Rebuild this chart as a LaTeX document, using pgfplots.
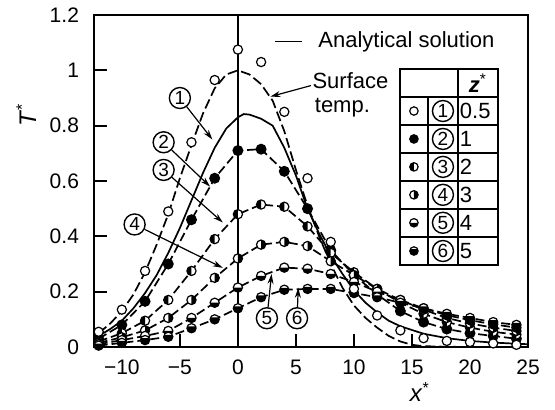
\documentclass[border=0pt]{standalone}
\usepackage{fontspec}
\setmainfont{Liberation Sans}
\usepackage{pgfplots}
\pgfplotsset{compat=1.18}
\usetikzlibrary{arrows.meta}

% half-filled circle marks
\pgfdeclareplotmark{hL}{%
  \pgfpathcircle{\pgfpointorigin}{\pgfplotmarksize}\pgfsetfillcolor{white}\pgfusepath{fill}%
  \pgfpathmoveto{\pgfqpoint{0pt}{\pgfplotmarksize}}\pgfpatharc{90}{270}{\pgfplotmarksize}\pgfpathclose
  \pgfsetfillcolor{black}\pgfusepath{fill}%
  \pgfpathcircle{\pgfpointorigin}{\pgfplotmarksize}\pgfusepath{stroke}}
\pgfdeclareplotmark{hR}{%
  \pgfpathcircle{\pgfpointorigin}{\pgfplotmarksize}\pgfsetfillcolor{white}\pgfusepath{fill}%
  \pgfpathmoveto{\pgfqpoint{0pt}{\pgfplotmarksize}}\pgfpatharc{90}{-90}{\pgfplotmarksize}\pgfpathclose
  \pgfsetfillcolor{black}\pgfusepath{fill}%
  \pgfpathcircle{\pgfpointorigin}{\pgfplotmarksize}\pgfusepath{stroke}}
\pgfdeclareplotmark{hB}{%
  \pgfpathcircle{\pgfpointorigin}{\pgfplotmarksize}\pgfsetfillcolor{white}\pgfusepath{fill}%
  \pgfpathmoveto{\pgfqpoint{-\pgfplotmarksize}{0pt}}\pgfpatharc{180}{360}{\pgfplotmarksize}\pgfpathclose
  \pgfsetfillcolor{black}\pgfusepath{fill}%
  \pgfpathcircle{\pgfpointorigin}{\pgfplotmarksize}\pgfusepath{stroke}}
\pgfdeclareplotmark{hBB}{%
  \pgfpathcircle{\pgfpointorigin}{\pgfplotmarksize}\pgfsetfillcolor{white}\pgfusepath{fill}%
  \pgfpathmoveto{\pgfpointpolar{25}{\pgfplotmarksize}}\pgfpatharc{25}{-205}{\pgfplotmarksize}\pgfpathclose
  \pgfsetfillcolor{black}\pgfusepath{fill}%
  \pgfpathcircle{\pgfpointorigin}{\pgfplotmarksize}\pgfusepath{stroke}}

\pgfplotstableread{
x    s1     s2    s3    s4    s5    s6
-12  0.055  0.030 0.020 0.015 0.010 0.005
-10  0.135  0.080 0.050 0.035 0.025 0.015
-8   0.275  0.165 0.095 0.060 0.040 0.025
-6   0.490  0.300 0.170 0.105 0.058 0.037
-4   0.740  0.460 0.275 0.170 0.105 0.068
-2   0.965  0.610 0.390 0.250 0.160 0.100
0    1.075  0.710 0.480 0.320 0.215 0.140
2    1.030  0.715 0.515 0.370 0.257 0.180
4    0.850  0.635 0.507 0.380 0.287 0.207
6    0.610  0.500 0.436 0.365 0.283 0.210
8    0.380  0.350 0.340 0.310 0.264 0.210
10   0.210  0.260 0.270 0.260 0.235 0.195
12   0.114  0.190 0.210 0.210 0.200 0.180
14   0.060  0.130 0.160 0.170 0.170 0.160
16   0.032  0.090 0.120 0.135 0.140 0.140
18   0.022  0.065 0.090 0.105 0.115 0.120
20   0.018  0.050 0.070 0.085 0.097 0.105
22   0.013  0.040 0.055 0.070 0.082 0.090
24   0.008  0.030 0.045 0.058 0.070 0.080
}\meas

\pgfplotstableread{
x    T
-12  0.040
-11  0.065
-10  0.095
-9   0.140
-8   0.195
-7   0.260
-6   0.340
-5   0.430
-4   0.530
-3   0.630
-2   0.720
-1   0.790
0    0.830
0.5  0.842
1    0.840
2    0.825
3    0.800
4    0.720
5    0.620
6    0.500
7    0.410
8    0.330
9    0.265
10   0.205
11   0.160
12   0.125
13   0.095
14   0.075
16   0.048
18   0.032
20   0.022
22   0.016
24   0.012
25   0.010
}\anal

\pgfplotstableread{
x    T
-12  0.050
-11  0.085
-10  0.130
-9   0.190
-8   0.270
-7   0.370
-6   0.480
-5   0.610
-4   0.730
-3   0.845
-2   0.935
-1   0.985
0    1.000
1    0.985
2    0.950
3    0.890
4    0.780
5    0.640
6    0.510
7    0.400
8    0.300
9    0.215
10   0.150
11   0.105
12   0.070
13   0.040
14   0.020
15   0.008
16   0.003
18   0.001
20   0.000
25   0.000
}\surf

\begin{document}
\begin{tikzpicture}[cn/.style={circle, draw, line width=0.7pt, inner sep=0pt, minimum size=10.5pt, font=\fontsize{9.5}{10}\selectfont},
  tl/.style={line width=0.9pt}, lt/.style={anchor=west, inner sep=0pt, font=\fontsize{11}{13}\selectfont},
  ar/.style={-{Stealth[length=5pt,width=3pt]}, line width=0.6pt}]
\begin{axis}[name=ax, scale only axis, width=217pt, height=166pt,
  xmin=-12.4, xmax=25, ymin=0, ymax=1.2,
  axis line style={line width=1pt},
  xtick={-10,-5,0,5,10,15,20,25}, xticklabels={−10,−5,0,5,10,15,20,25},
  ytick={0,0.2,0.4,0.6,0.8,1,1.2}, yticklabels={0,0.2,0.4,0.6,0.8,1,1.2},
  tick align=inside, xtick pos=bottom, ytick pos=left,
  major tick length=6.5pt, tick style={line width=1pt, black},
  ticklabel style={font=\fontsize{10.5}{12}\selectfont},
  xticklabel style={yshift=-3pt}, yticklabel style={xshift=-4pt},
  xlabel={\textit{x}\textsuperscript{*}},
  xlabel style={at={(ticklabel cs:0.751)}, anchor=north, inner sep=0pt, yshift=0pt, font=\fontsize{12}{13}\selectfont},
  ylabel={\textit{T}\textsuperscript{*}},
  ylabel style={at={(ticklabel cs:0.694)}, xshift=1pt, font=\fontsize{12}{14}\selectfont},
  clip=false,
]
\draw[line width=1pt] (axis cs:0,0) -- (axis cs:0,1.2);

\addplot[black, line width=0.85pt, dash pattern=on 5pt off 2pt] table[x=x,y=T] {\surf};
\addplot[black, line width=0.85pt] table[x=x,y=T] {\anal};

\pgfplotsset{ser/.style={black, line width=0.85pt, dash pattern=on 4.5pt off 2pt, mark size=2.3pt, mark options={solid, line width=0.6pt}}}
\addplot[ser, mark=*, mark options={solid, fill=black}] table[x=x,y=s2] {\meas};
\addplot[ser, mark=hL] table[x=x,y=s3] {\meas};
\addplot[ser, mark=hR] table[x=x,y=s4] {\meas};
\addplot[ser, mark=hB] table[x=x,y=s5] {\meas};
\addplot[ser, mark=hBB] table[x=x,y=s6] {\meas};
\addplot[only marks, mark=*, mark size=2.3pt, mark options={fill=white, line width=0.6pt}] table[x=x,y=s1] {\meas};

% legend text
\draw[line width=0.9pt] (axis cs:3.2,1.104) -- (axis cs:5.5,1.104);
\node[lt] at (axis cs:6.9,1.104) {Analytical solution};
\node[lt] at (axis cs:6.4,0.964) {Surface};
\node[lt] at (axis cs:6.6,0.864) {temp.};
\draw[ar] (axis cs:6.3,0.945) -- (axis cs:2.8,0.905);

% curve labels
\node[cn] (c1) at (axis cs:-5.0,0.900) {1};
\node[cn] (c2) at (axis cs:-6.4,0.740) {2};
\node[cn] (c3) at (axis cs:-6.4,0.640) {3};
\node[cn] (c4) at (axis cs:-8.9,0.443) {4};
\node[cn] (c5) at (axis cs:2.5,0.104) {5};
\node[cn] (c6) at (axis cs:5.1,0.104) {6};
\draw[ar] (c1) -- (axis cs:-2.2,0.75);
\draw[ar] (c2) -- (axis cs:-2.4,0.58);
\draw[ar] (c3) -- (axis cs:-1.3,0.45);
\draw[ar] (c4) -- (axis cs:-1.3,0.286);
\draw[ar] (c5) -- (axis cs:2.9,0.264);
\draw[ar] (c6) -- (axis cs:5.2,0.214);

% table
\draw[tl, fill=white] (axis cs:13.97,0.2959) rectangle (axis cs:22.41,1.0036);
\draw[tl] (axis cs:13.97,0.9025) -- (axis cs:22.41,0.9025);
\draw[tl] (axis cs:13.97,0.8014) -- (axis cs:22.41,0.8014);
\draw[tl] (axis cs:13.97,0.7003) -- (axis cs:22.41,0.7003);
\draw[tl] (axis cs:13.97,0.5992) -- (axis cs:22.41,0.5992);
\draw[tl] (axis cs:13.97,0.4981) -- (axis cs:22.41,0.4981);
\draw[tl] (axis cs:13.97,0.3970) -- (axis cs:22.41,0.3970);
\draw[tl] (axis cs:18.97,0.2959) -- (axis cs:18.97,1.0036);
\draw[tl] (axis cs:16.38,0.2959) -- (axis cs:16.38,0.9025);
\node[font=\fontsize{11}{13}\selectfont] at (axis cs:20.69,0.953) {\textit{\textbf{z}}\textsuperscript{*}};
\addplot[only marks, forget plot, mark=*, mark size=2.1pt, mark options={fill=white, line width=0.6pt}] coordinates {(15.17,0.853)};
\addplot[only marks, forget plot, mark=*, mark size=2.1pt, mark options={fill=black, line width=0.6pt}] coordinates {(15.17,0.752)};
\addplot[only marks, forget plot, mark=hL, mark size=2.1pt, mark options={line width=0.6pt}] coordinates {(15.17,0.651)};
\addplot[only marks, forget plot, mark=hR, mark size=2.1pt, mark options={line width=0.6pt}] coordinates {(15.17,0.550)};
\addplot[only marks, forget plot, mark=hB, mark size=2.1pt, mark options={line width=0.6pt}] coordinates {(15.17,0.449)};
\addplot[only marks, forget plot, mark=hBB, mark size=2.1pt, mark options={line width=0.6pt}] coordinates {(15.17,0.347)};
\node[cn] at (axis cs:17.67,0.853) {1};
\node[cn] at (axis cs:17.67,0.752) {2};
\node[cn] at (axis cs:17.67,0.651) {3};
\node[cn] at (axis cs:17.67,0.550) {4};
\node[cn] at (axis cs:17.67,0.449) {5};
\node[cn] at (axis cs:17.67,0.347) {6};
\node[lt] at (axis cs:19.1,0.853) {0.5};
\node[lt] at (axis cs:19.1,0.752) {1};
\node[lt] at (axis cs:19.1,0.651) {2};
\node[lt] at (axis cs:19.1,0.550) {3};
\node[lt] at (axis cs:19.1,0.449) {4};
\node[lt] at (axis cs:19.1,0.347) {5};
\end{axis}
\pgfresetboundingbox
\path[use as bounding box] (ax.south west) ++(-47pt,-31pt) rectangle ([xshift=13.5pt,yshift=7.5pt]ax.north east);
\end{tikzpicture}
\end{document}
